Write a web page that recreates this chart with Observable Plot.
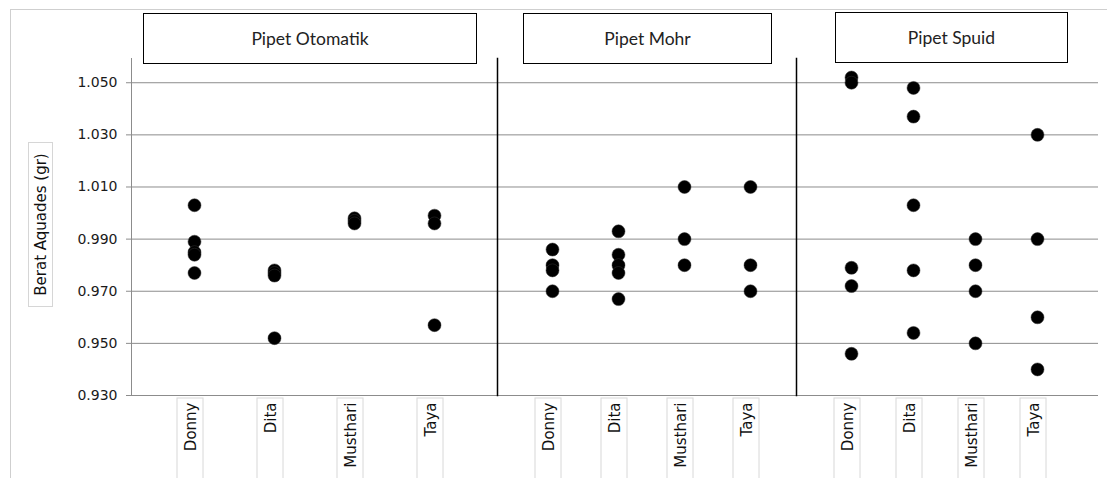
<!DOCTYPE html>
<html><head><meta charset="utf-8">
<script src="https://cdn.jsdelivr.net/npm/d3@7"></script>
<script src="https://cdn.jsdelivr.net/npm/@observablehq/plot@0.6"></script>
<style>
html,body{margin:0;padding:0;background:#fff;}
#chart{position:relative;width:1107px;height:478px;overflow:hidden;background:#fff;}
#chart svg{position:absolute;top:0;overflow:visible;background:transparent;}
.border{position:absolute;left:10px;top:9px;width:1200px;height:600px;border:1px solid #cfcfcf;box-sizing:border-box;}
.hdr{position:absolute;border:1px solid #000;background:#fff;box-sizing:border-box;display:flex;align-items:center;justify-content:center;font:17.5px Lato, sans-serif;color:#222;z-index:2;}
.ytitle{position:absolute;left:-42px;top:212px;width:165px;height:25px;box-sizing:border-box;border:1px solid #d6d6d6;transform:rotate(-90deg);transform-origin:center;display:flex;align-items:center;justify-content:center;font:15px "DejaVu Sans", sans-serif;color:#111;white-space:nowrap;z-index:2;}
</style>
</head><body>
<div id="chart"><div class="border"></div></div>
<script>
const names = ["Donny", "Dita", "Musthari", "Taya"];
const pipets = ["Pipet Otomatik", "Pipet Mohr", "Pipet Spuid"];
const yTicks = [0.930, 0.950, 0.970, 0.990, 1.010, 1.030, 1.050];
const yLabel = "Berat Aquades (gr)";

// values per person (Donny, Dita, Musthari, Taya)
const otomatik = [
  [1.003, 0.989, 0.985, 0.984, 0.977],
  [0.978, 0.977, 0.976, 0.952],
  [0.998, 0.997, 0.996],
  [0.999, 0.996, 0.957]
];
const mohr = [
  [0.986, 0.980, 0.978, 0.970],
  [0.993, 0.984, 0.980, 0.977, 0.967],
  [1.010, 0.990, 0.980],
  [1.010, 0.980, 0.970]
];
const spuid = [
  [1.052, 1.050, 0.979, 0.972, 0.946],
  [1.048, 1.037, 1.003, 0.978, 0.954],
  [0.990, 0.980, 0.970, 0.950],
  [1.030, 0.990, 0.960, 0.940]
];
const series = [otomatik, mohr, spuid];

const panels = [
  {left: 0, width: 497, ml: 131, mr: 0, padding: 0.77, align: 0.5},
  {left: 497, width: 299, ml: 0, mr: 0, padding: 0.75, align: 0.54},
  {left: 796, width: 311, ml: 0, mr: 9, padding: 0.905, align: 0.47}
];
const headers = [
  {x: 143, y: 13, w: 334, h: 51},
  {x: 523, y: 13, w: 249, h: 51},
  {x: 835, y: 12, w: 233, h: 51}
];

const chart = document.getElementById("chart");

panels.forEach((p, i) => {
  const rows = series[i].flatMap((vals, j) => vals.map(v => ({name: names[j], value: v})));
  const marks = [
    Plot.gridY(yTicks, {stroke: "#8c8c8c", strokeOpacity: 1}),
    Plot.axisX({tickSize: 0, tickPadding: 7, tickRotate: -90, fontSize: 15, fill: "#111", dx: -3, label: null})
  ];
  if (i === 0) {
    marks.push(Plot.axisY(yTicks, {tickFormat: d3.format(".3f"), tickSize: 5, tickPadding: 9, stroke: "#8c8c8c", fill: "#1a1a1a", fontSize: 14, label: null}));
    marks.push(Plot.frame({anchor: "left", stroke: "#8c8c8c"}));
  } else {
    marks.push(Plot.frame({anchor: "left", stroke: "#000", strokeWidth: 1.5}));
  }
  marks.push(Plot.dot(rows, {x: "name", y: "value", r: 6.5, fill: "#000", stroke: "#333", strokeWidth: 0.5}));
  const plot = Plot.plot({
    width: p.width, height: 478,
    marginLeft: p.ml, marginRight: p.mr, marginTop: 58, marginBottom: 83,
    x: {type: "point", domain: names, padding: p.padding, align: p.align},
    y: {domain: [0.930, 1.0593], axis: i === 0 ? undefined : null},
    style: {fontFamily: "DejaVu Sans", fontSize: "14px", background: "transparent", overflow: "visible"},
    marks
  });
  plot.style.left = p.left + "px";
  chart.appendChild(plot);
  const sx = plot.scale("x");
  d3.select(plot).insert("g", ":first-child")
    .selectAll("rect").data(names).join("rect")
    .attr("x", d => sx.apply(d) - 17).attr("y", 398)
    .attr("width", 26).attr("height", 100)
    .attr("fill", "none").attr("stroke", "#d8d8d8");

  const h = headers[i];
  const div = document.createElement("div");
  div.className = "hdr";
  div.style.left = h.x + "px"; div.style.top = h.y + "px";
  div.style.width = h.w + "px"; div.style.height = h.h + "px";
  div.textContent = pipets[i];
  chart.appendChild(div);
});

const yt = document.createElement("div");
yt.className = "ytitle";
yt.textContent = yLabel;
chart.appendChild(yt);
</script>
</body></html>
